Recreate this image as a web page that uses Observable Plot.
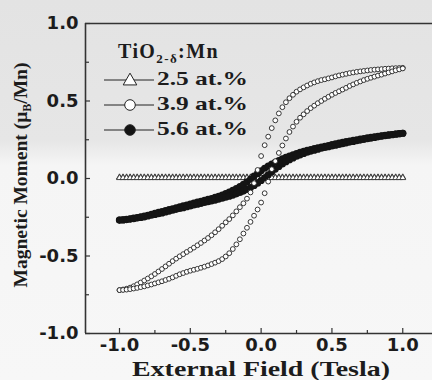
<!DOCTYPE html>
<html>
<head>
<meta charset="utf-8">
<script src="https://cdn.jsdelivr.net/npm/d3@7"></script>
<script src="https://cdn.jsdelivr.net/npm/@observablehq/plot@0.6"></script>
<style>
  html, body { margin: 0; padding: 0; }
  body { width: 432px; height: 380px; overflow: hidden;
    background: linear-gradient(to bottom, #e3e3e3 0px, #e6e6e6 140px, #f5f5f5 165px, #f7f7f7 380px); }
  svg { display: block; }
</style>
</head>
<body>
<div id="chart"></div>
<script>
// ---- data ----
const field = [
  -1.000,-0.975,-0.950,-0.925,-0.900,-0.875,-0.850,-0.825,-0.800,-0.775,
  -0.750,-0.725,-0.700,-0.675,-0.650,-0.625,-0.600,-0.575,-0.550,-0.525,
  -0.500,-0.475,-0.450,-0.425,-0.400,-0.375,-0.350,-0.325,-0.300,-0.275,
  -0.250,-0.225,-0.200,-0.175,-0.150,-0.125,-0.100,-0.075,-0.050,-0.025,
   0.000, 0.025, 0.050, 0.075, 0.100, 0.125, 0.150, 0.175, 0.200, 0.225,
   0.250, 0.275, 0.300, 0.325, 0.350, 0.375, 0.400, 0.425, 0.450, 0.475,
   0.500, 0.525, 0.550, 0.575, 0.600, 0.625, 0.650, 0.675, 0.700, 0.725,
   0.750, 0.775, 0.800, 0.825, 0.850, 0.875, 0.900, 0.925, 0.950, 0.975,
   1.000];

// 2.5 at.% (triangles), field-decreasing and field-increasing sweeps
const m25Desc = [
  0.008,0.008,0.008,0.008,0.008,0.008,0.008,0.008,0.008,0.008,
  0.008,0.008,0.008,0.008,0.008,0.008,0.008,0.008,0.008,0.008,
  0.008,0.008,0.008,0.008,0.008,0.008,0.008,0.008,0.008,0.008,
  0.008,0.008,0.008,0.008,0.008,0.008,0.008,0.008,0.008,0.008,
  0.008,0.008,0.008,0.008,0.008,0.008,0.008,0.008,0.008,0.008,
  0.008,0.008,0.008,0.008,0.008,0.008,0.008,0.008,0.008,0.008,
  0.008,0.008,0.008,0.008,0.008,0.008,0.008,0.008,0.008,0.008,
  0.008,0.008,0.008,0.008,0.008,0.008,0.008,0.008,0.008,0.008,
  0.008];
const m25Asc = [
  0.004,0.004,0.004,0.004,0.004,0.004,0.004,0.004,0.004,0.004,
  0.004,0.004,0.004,0.004,0.004,0.004,0.004,0.004,0.004,0.004,
  0.004,0.004,0.004,0.004,0.004,0.004,0.004,0.004,0.004,0.004,
  0.004,0.004,0.004,0.004,0.004,0.004,0.004,0.004,0.004,0.004,
  0.004,0.004,0.004,0.004,0.004,0.004,0.004,0.004,0.004,0.004,
  0.004,0.004,0.004,0.004,0.004,0.004,0.004,0.004,0.004,0.004,
  0.004,0.004,0.004,0.004,0.004,0.004,0.004,0.004,0.004,0.004,
  0.004,0.004,0.004,0.004,0.004,0.004,0.004,0.004,0.004,0.004,
  0.004];

// 3.9 at.% (open circles)
const m39Desc = [
  -0.720,-0.716,-0.711,-0.704,-0.695,-0.683,-0.671,-0.658,-0.645,-0.631,
  -0.616,-0.600,-0.584,-0.567,-0.550,-0.533,-0.517,-0.502,-0.488,-0.474,
  -0.460,-0.446,-0.431,-0.416,-0.400,-0.384,-0.366,-0.347,-0.327,-0.305,
  -0.283,-0.262,-0.238,-0.212,-0.185,-0.160,-0.130,-0.090,-0.030, 0.055,
   0.145, 0.215, 0.270, 0.325, 0.375, 0.420, 0.460, 0.492, 0.518, 0.540,
   0.560, 0.575, 0.588, 0.600, 0.611, 0.620, 0.628, 0.635, 0.640, 0.646,
   0.652, 0.659, 0.665, 0.670, 0.675, 0.680, 0.684, 0.688, 0.691, 0.694,
   0.697, 0.700, 0.702, 0.704, 0.706, 0.708, 0.709, 0.711, 0.712, 0.713,
   0.714];
const m39Asc = [
  -0.720,-0.719,-0.717,-0.714,-0.710,-0.706,-0.701,-0.696,-0.690,-0.684,
  -0.677,-0.670,-0.663,-0.655,-0.647,-0.638,-0.628,-0.618,-0.610,-0.602,
  -0.595,-0.589,-0.583,-0.576,-0.569,-0.561,-0.552,-0.543,-0.533,-0.520,
  -0.503,-0.482,-0.455,-0.425,-0.392,-0.355,-0.318,-0.280,-0.240,-0.200,
  -0.155,-0.095,-0.020, 0.060, 0.112, 0.165, 0.213, 0.258, 0.300, 0.335,
   0.366, 0.392, 0.414, 0.435, 0.454, 0.470, 0.486, 0.500, 0.514, 0.527,
   0.540, 0.552, 0.563, 0.574, 0.585, 0.597, 0.607, 0.617, 0.626, 0.635,
   0.643, 0.650, 0.657, 0.664, 0.670, 0.677, 0.684, 0.691, 0.698, 0.704,
   0.710];

// 5.6 at.% (filled circles)
const m56Desc = [
  -0.268,-0.266,-0.263,-0.260,-0.256,-0.252,-0.247,-0.242,-0.237,-0.231,
  -0.225,-0.219,-0.213,-0.207,-0.201,-0.195,-0.189,-0.183,-0.177,-0.171,
  -0.165,-0.159,-0.153,-0.147,-0.141,-0.135,-0.129,-0.122,-0.115,-0.107,
  -0.098,-0.088,-0.077,-0.065,-0.052,-0.038,-0.022,-0.005, 0.015, 0.033,
   0.050, 0.066, 0.080, 0.093, 0.105, 0.116, 0.126, 0.136, 0.145, 0.153,
   0.161, 0.168, 0.175, 0.181, 0.187, 0.193, 0.198, 0.203, 0.208, 0.213,
   0.218, 0.223, 0.228, 0.233, 0.238, 0.242, 0.246, 0.250, 0.254, 0.258,
   0.262, 0.265, 0.268, 0.272, 0.275, 0.278, 0.281, 0.284, 0.287, 0.290,
   0.292];
const m56Asc = [
  -0.268,-0.267,-0.265,-0.262,-0.259,-0.255,-0.251,-0.247,-0.242,-0.237,
  -0.232,-0.227,-0.222,-0.216,-0.210,-0.205,-0.199,-0.193,-0.188,-0.182,
  -0.177,-0.171,-0.166,-0.160,-0.155,-0.150,-0.144,-0.139,-0.133,-0.127,
  -0.121,-0.114,-0.107,-0.099,-0.090,-0.081,-0.070,-0.058,-0.045,-0.030,
  -0.013, 0.005, 0.024, 0.043, 0.061, 0.078, 0.094, 0.108, 0.121, 0.133,
   0.144, 0.153, 0.162, 0.170, 0.177, 0.183, 0.189, 0.195, 0.200, 0.205,
   0.210, 0.215, 0.220, 0.225, 0.230, 0.235, 0.239, 0.244, 0.248, 0.253,
   0.257, 0.261, 0.265, 0.269, 0.273, 0.277, 0.280, 0.283, 0.286, 0.289,
   0.292];

const seriesLabels = ["2.5 at.%", "3.9 at.%", "5.6 at.%"];
const xDomain = [-1.24, 1.21];
const yDomain = [-1, 1];
const xMajor = [-1, -0.5, 0, 0.5, 1];
const xMinor = [-0.75, -0.25, 0.25, 0.75];
const yMajor = [-1, -0.5, 0, 0.5, 1];
const yMinor = [-0.75, -0.25, 0.25, 0.75];
const xLabel = "External Field (Tesla)";
const legendTitle = ["TiO", "2-δ", ":Mn"];

// ---- build tables ----
const rows = (arr) => field.map((h, i) => ({H: h, M: arr[i]}));
const d25 = rows(m25Desc).concat(rows(m25Asc));
const d39 = rows(m39Desc).concat(rows(m39Asc));
const d56 = rows(m56Desc).concat(rows(m56Asc));

const W = 432, H = 380, mL = 85, mR = 0, mT = 23, mB = 47;
const innerW = W - mL - mR, innerH = H - mT - mB;
const ink = "#1c1c1c";
const fmt = d => d.toFixed(1);

const chart = Plot.plot({
  width: W, height: H,
  marginLeft: mL, marginRight: mR, marginTop: mT, marginBottom: mB,
  style: {background: "transparent", overflow: "visible"},
  x: {domain: xDomain},
  y: {domain: yDomain},
  marks: [
    Plot.ruleY(yDomain, {stroke: "#333", strokeWidth: 1.6}),
    Plot.ruleX([xDomain[0]], {stroke: "#333", strokeWidth: 1.6}),
    Plot.tickX(xMajor, {x: d => d, insetTop: innerH - 5, stroke: "#333", strokeWidth: 1.2}),
    Plot.tickX(xMinor, {x: d => d, insetTop: innerH - 3, stroke: "#333", strokeWidth: 1.2}),
    Plot.tickY(yMajor, {y: d => d, insetRight: innerW - 5, stroke: "#333", strokeWidth: 1.2}),
    Plot.tickY(yMinor, {y: d => d, insetRight: innerW - 4, stroke: "#333", strokeWidth: 1.2}),
    Plot.axisX({ticks: xMajor, tickSize: 0, tickPadding: 5, tickFormat: fmt, label: null,
      fontSize: 18, fontWeight: "bold", fontFamily: "DejaVu Sans", fill: ink}),
    Plot.axisY({ticks: yMajor, tickSize: 0, tickPadding: 7, tickFormat: fmt, label: null,
      fontSize: 18, fontWeight: "bold", fontFamily: "DejaVu Sans", fill: ink}),
    Plot.dot(d25, {x: "H", y: "M", symbol: "triangle", r: 2.2, stroke: "#222", strokeWidth: 0.8, fill: "white"}),
    Plot.dot(d56, {x: "H", y: "M", r: 3.6, fill: "#141414", stroke: "none"}),
    Plot.dot(d39, {x: "H", y: "M", r: 2.4, stroke: "#222", strokeWidth: 0.9, fill: "white"})
  ]
});
document.getElementById("chart").appendChild(chart);

// ---- text labels and legend ----
const svg = d3.select(chart);
const serif = "'Liberation Serif', 'Times New Roman', serif";

// x label
svg.append("text")
  .attr("x", 261).attr("y", 375.5)
  .attr("text-anchor", "middle")
  .attr("font-family", serif).attr("font-weight", "bold").attr("font-size", 22)
  .attr("fill", ink)
  .attr("textLength", 258).attr("lengthAdjust", "spacingAndGlyphs")
  .text(xLabel);

// y label with subscript
const yl = svg.append("text")
  .attr("transform", "translate(27,175) rotate(-90)")
  .attr("text-anchor", "middle")
  .attr("font-family", serif).attr("font-weight", "bold").attr("font-size", 19.5)
  .attr("fill", ink);
yl.append("tspan").text("Magnetic Moment (μ");
yl.append("tspan").attr("font-size", 12).attr("dy", 4).text("B");
yl.append("tspan").attr("dy", -4).text("/Mn)");

// legend title
const lt = svg.append("text")
  .attr("x", 118).attr("y", 58)
  .attr("text-anchor", "start")
  .attr("font-family", serif).attr("font-weight", "bold").attr("font-size", 20)
  .attr("letter-spacing", 1.4)
  .attr("fill", ink);
lt.append("tspan").text(legendTitle[0]);
lt.append("tspan").attr("font-size", 13).attr("dy", 5).text(legendTitle[1]);
lt.append("tspan").attr("dy", -5).text(legendTitle[2]);

// legend entries
const rowsY = [80, 105, 130];
seriesLabels.forEach((lab, i) => {
  const y = rowsY[i];
  svg.append("line").attr("x1", 104).attr("x2", 154).attr("y1", y).attr("y2", y)
    .attr("stroke", "#222").attr("stroke-width", 1);
  if (i === 0) {
    svg.append("path").attr("d", d3.symbol(d3.symbolTriangle, 80)())
      .attr("transform", `translate(130,${y + 1})`)
      .attr("fill", "white").attr("stroke", "#222").attr("stroke-width", 1);
  } else {
    svg.append("circle").attr("cx", 130).attr("cy", y).attr("r", 5.3)
      .attr("fill", i === 1 ? "white" : "#141414").attr("stroke", "#222").attr("stroke-width", 1);
  }
  svg.append("text").attr("x", 157).attr("y", y + 5)
    .attr("text-anchor", "start")
    .attr("font-family", serif).attr("font-weight", "bold").attr("font-size", 19.5)
    .attr("fill", ink)
    .attr("textLength", 91).attr("lengthAdjust", "spacingAndGlyphs")
    .text(lab);
});
</script>
</body>
</html>
